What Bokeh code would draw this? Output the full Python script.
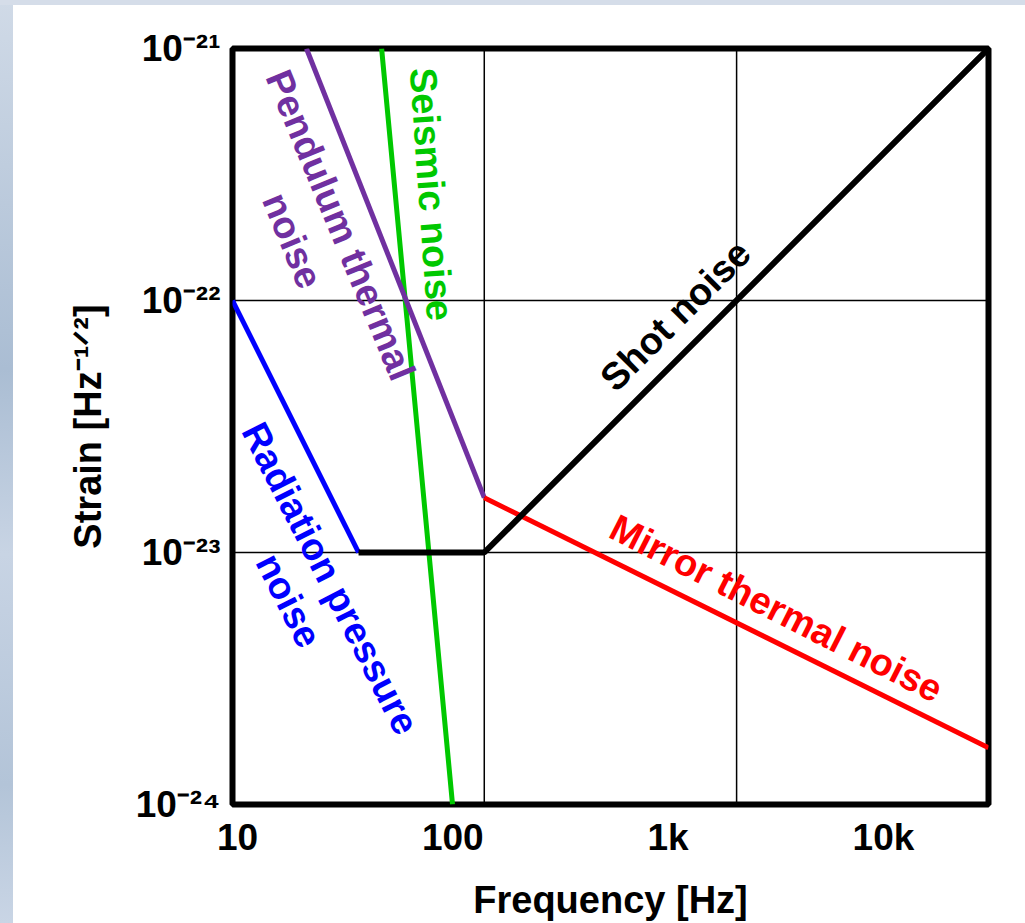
from bokeh.plotting import figure
from bokeh.models import Range1d, FixedTicker, Span, ColumnDataSource
from bokeh.core.properties import value
from bokeh.embed import file_html
from bokeh.resources import INLINE

# ---- data (frequency in Hz, strain in Hz^-1/2) ----
radiation_f = [9.48, 36.5]
radiation_h = [1e-22, 1e-23]
shot_f = [36.5, 140, 30760]
shot_h = [1e-23, 1e-23, 1e-21]
pendulum_f = [20.9, 140]
pendulum_h = [1e-21, 1.65e-23]
mirror_f = [140, 30760]
mirror_h = [1.65e-23, 1.68e-24]
seismic_f = [46.7, 99.7]
seismic_h = [1e-21, 1e-24]

x_tick_values = [10, 100, 1000, 10000]
x_tick_labels = ["10", "100", "1k", "10k"]
y_tick_values = [1e-24, 1e-23, 1e-22, 1e-21]
y_tick_labels = ["10⁻²⁴", "10⁻²³", "10⁻²²", "10⁻²¹"]
x_grid_values = [140, 2080]

label_texts = ["Pendulum thermal", "noise", "Seismic noise", "Radiation pressure",
               "noise", "Shot noise", "Mirror thermal noise"]
label_f = [30.1, 18.0, 79.6, 27.0, 17.3, 1081, 3185]
label_h = [1.99e-22, 1.73e-22, 2.64e-22, 7.89e-24, 6.45e-24, 8.71e-23, 6.0e-24]
label_angle = [-67.5, -67.5, -86, -63, -63, 45, -27]
label_color = ["#7030a0", "#7030a0", "#00c800", "#0000ff", "#0000ff", "#000000", "#ff0000"]

FONT = "Liberation Sans"

p = figure(width=1025, height=923, x_axis_type="log", y_axis_type="log",
           x_range=Range1d(9.48, 30760), y_range=Range1d(1e-24, 1e-21),
           output_backend="svg", toolbar_location=None,
           min_border_left=232, min_border_right=37, min_border_top=48, min_border_bottom=119,
           background_fill_color="white", border_fill_alpha=0)

p.styles = {
    "background": "linear-gradient(#d5dde9, #d5dde9) left top / 100% 5px no-repeat, "
                  "linear-gradient(to bottom, #d0dae7, #aabdd3 40%, #c8d4e4 60%, #b3c4d8 85%, #c9d5e5) left top / 13px 100% no-repeat, "
                  "#ffffff"
}

p.outline_line_color = "black"
p.outline_line_width = 6
p.outline_line_alpha = 1

# grids
p.xgrid.visible = False
yt = FixedTicker(ticks=y_tick_values, minor_ticks=[])
p.yaxis.ticker = yt
p.ygrid.ticker = yt
p.ygrid.grid_line_color = "black"
p.ygrid.grid_line_width = 1.5
for gx in x_grid_values:
    p.add_layout(Span(location=gx, dimension="height", line_color="black",
                      line_width=1.5, level="underlay"))

xt = FixedTicker(ticks=x_tick_values, minor_ticks=[])
p.xaxis.ticker = xt
p.xaxis.major_label_overrides = {float(v): l for v, l in zip(x_tick_values, x_tick_labels)}
p.yaxis.major_label_overrides = {float(v): l for v, l in zip(y_tick_values, y_tick_labels)}

for ax in (p.xaxis, p.yaxis):
    ax.axis_line_color = None
    ax.major_tick_line_color = None
    ax.minor_tick_line_color = None
    ax.major_tick_out = 0
    ax.major_tick_in = 0
    ax.major_label_text_font = FONT
    ax.major_label_text_font_style = "bold"
    ax.major_label_text_font_size = "37px"
    ax.major_label_text_color = "black"
    ax.axis_label_text_font = FONT
    ax.axis_label_text_font_style = "bold"
    ax.axis_label_text_font_size = "38px"
    ax.axis_label_text_color = "black"

p.xaxis.axis_label = "Frequency [Hz]"
p.yaxis.axis_label = "Strain [Hz⁻¹ᐟ²]"
p.xaxis.major_label_standoff = 12
p.xaxis.axis_label_standoff = 18
p.yaxis.major_label_standoff = 12
p.yaxis.axis_label_standoff = 24
p.yaxis.major_label_orientation = "horizontal"

# curves
p.line(seismic_f, seismic_h, line_color="#00c800", line_width=5)
p.line(pendulum_f, pendulum_h, line_color="#7030a0", line_width=5)
p.line(radiation_f, radiation_h, line_color="#0000ff", line_width=5)
p.line(mirror_f, mirror_h, line_color="#ff0000", line_width=5)
p.line(shot_f, shot_h, line_color="black", line_width=6)

src = ColumnDataSource(dict(x=label_f, y=label_h, text=label_texts,
                            angle=label_angle, color=label_color))
p.text(x="x", y="y", text="text", angle="angle", angle_units="deg", source=src,
       text_color="color", text_font=value(FONT), text_font_style="bold",
       text_font_size=value("38px"), text_align="center", text_baseline="middle")

open("out.html", "w").write(file_html(p, INLINE))
